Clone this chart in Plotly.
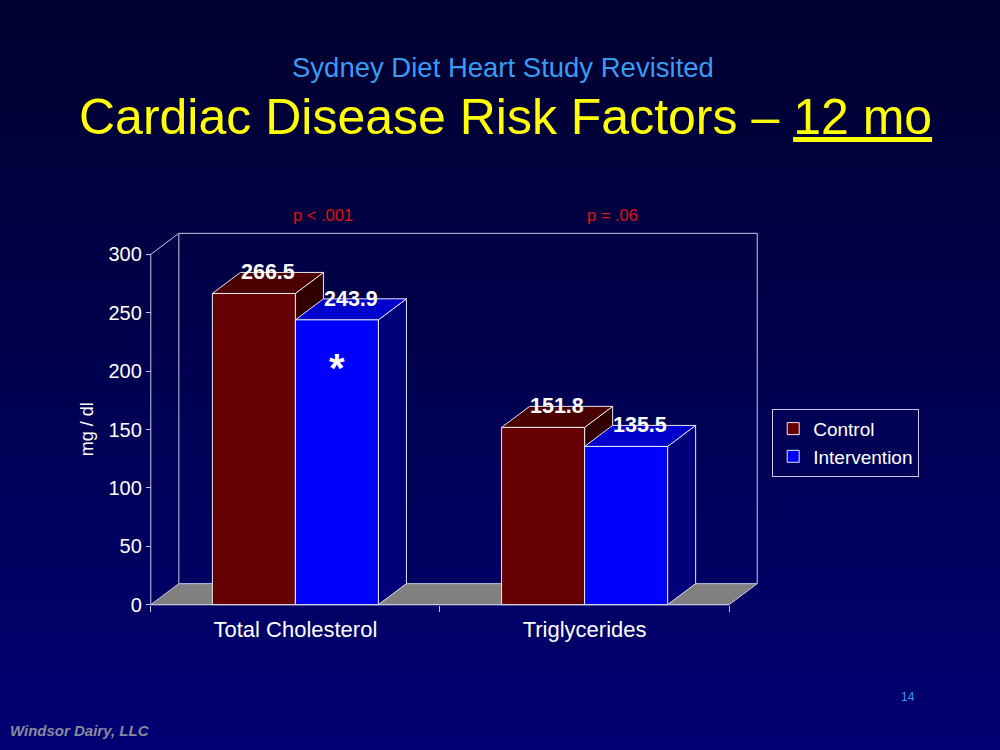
import plotly.graph_objects as go

# ---------------- data ----------------
categories = ["Total Cholesterol", "Triglycerides"]
series_names = ["Control", "Intervention"]
control = [266.5, 151.8]
intervention = [243.9, 135.5]
p_values = ["p < .001", "p = .06"]
y_ticks = [0, 50, 100, 150, 200, 250, 300]

# ---------------- style / geometry ----------------
front_colors = ["#660000", "#0000FF"]
top_colors = ["#4A0000", "#0000CC"]
side_colors = ["#300000", "#000078"]
EDGE = "#E8E8F0"
WALL = "#C8C8E6"
FLOOR = "#808080"
FONT = "Arial, Liberation Sans, sans-serif"

DX = 0.097      # 3-D depth offset (x units)
DY = 18         # 3-D depth offset (y units)
BARGAP = 0.426
BW = (1 - BARGAP) / 2
YMAX = 300
XR = [-0.52, 1.61]
YR = [-2, 320]

W, H = 1000, 750
ML, MR, MT, MB = 145.2, 239.2, 231.2, 142.7
PW, PH = W - ML - MR, H - MT - MB


def paper(px, py):
    return (px - ML) / PW, (H - MB - py) / PH


xs = list(range(len(categories)))
series_vals = [control, intervention]
offsets = [-BW, 0.0]

fig = go.Figure()

# floor
fx = [-0.5, 1.5, 1.5 + DX, -0.5 + DX, -0.5]
fy = [0, 0, DY, DY, 0]
fig.add_trace(go.Scatter(x=fx, y=fy, fill="toself", fillcolor=FLOOR, mode="lines",
                         line=dict(color=WALL, width=1), hoverinfo="skip",
                         showlegend=False, zorder=0))
# back wall + left wall edge + y axis line
wx = [-0.5 + DX, -0.5 + DX, 1.5 + DX, 1.5 + DX, None, -0.5, -0.5 + DX, None, -0.5, -0.5]
wy = [DY, YMAX + DY, YMAX + DY, DY, None, YMAX, YMAX + DY, None, 0, YMAX]
fig.add_trace(go.Scatter(x=wx, y=wy, mode="lines", line=dict(color=WALL, width=1),
                         hoverinfo="skip", showlegend=False, zorder=0))
# front x axis line
fig.add_trace(go.Scatter(x=[-0.5, 1.5], y=[0, 0], mode="lines", line=dict(color=WALL, width=1),
                         hoverinfo="skip", showlegend=False, zorder=0))

for s, (name, vals) in enumerate(zip(series_names, series_vals)):
    off = offsets[s]
    tx, ty, rx, ry = [], [], [], []
    for i, v in zip(xs, vals):
        x0 = i + off
        x1 = x0 + BW
        tx += [x0, x1, x1 + DX, x0 + DX, x0, None]
        ty += [v, v, v + DY, v + DY, v, None]
        rx += [x1, x1 + DX, x1 + DX, x1, x1, None]
        ry += [0, DY, v + DY, v, 0, None]
    z = 1 + 2 * s
    fig.add_trace(go.Scatter(x=rx, y=ry, fill="toself", fillcolor=side_colors[s], mode="lines",
                             line=dict(color=EDGE, width=1), hoverinfo="skip",
                             showlegend=False, zorder=z))
    fig.add_trace(go.Scatter(x=tx, y=ty, fill="toself", fillcolor=top_colors[s], mode="lines",
                             line=dict(color=EDGE, width=1), hoverinfo="skip",
                             showlegend=False, zorder=z))
    fig.add_trace(go.Bar(x=xs, y=vals, name=name, width=BW, offset=off,
                         marker=dict(color=front_colors[s], line=dict(color=EDGE, width=1)),
                         zorder=z + 1))

annotations = []
for s, vals in enumerate(series_vals):
    for i, v in zip(xs, vals):
        annotations.append(dict(x=i + offsets[s] + BW / 2 + DX / 2, y=v + DY, xref="x", yref="y",
                                xanchor="center", yanchor="middle",
                                text=f"<b>{v}</b>", showarrow=False,
                                font=dict(family=FONT, size=21.5, color="white")))
# significance asterisk
annotations.append(dict(x=xs[0] + offsets[1] + BW / 2, y=203, xref="x", yref="y", text="<b>*</b>",
                        xanchor="center", yanchor="middle",
                        showarrow=False, font=dict(family=FONT, size=40, color="white")))
# p-values above the chart
p_y = paper(0, 215)[1]
for i, p in zip(xs, p_values):
    annotations.append(dict(x=i + DX, y=p_y, xref="x", yref="paper", text=p, showarrow=False,
                            xanchor="center", yanchor="middle",
                            font=dict(family=FONT, size=16.5, color="#E01010")))
# y-axis title, centred on the 0-300 scale
tx_, _ = paper(87, 0)
annotations.append(dict(x=tx_, y=YMAX / 2, xref="paper", yref="y", text="mg / dl", textangle=-90,
                        xanchor="center", yanchor="middle", showarrow=False,
                        font=dict(family=FONT, size=18, color="white")))

# titles
px, py = paper(503, 68)
annotations.append(dict(x=px, y=py, xref="paper", yref="paper", text="Sydney Diet Heart Study Revisited",
                        xanchor="center", yanchor="middle",
                        showarrow=False, font=dict(family=FONT, size=27.5, color="#3A9BF2")))
px, py = paper(505, 117)
annotations.append(dict(x=px, y=py, xref="paper", yref="paper",
                        xanchor="center", yanchor="middle",
                        text="Cardiac Disease Risk Factors – <span style='text-decoration:underline'>12 mo</span>",
                        showarrow=False, font=dict(family=FONT, size=50, color="#FFFF00")))
# footer
px, py = paper(8, 731)
annotations.append(dict(x=px, y=py, xref="paper", yref="paper", xanchor="left", yanchor="middle",
                        text="<b><i>Windsor Dairy, LLC</i></b>", showarrow=False,
                        font=dict(family=FONT, size=15, color="#8A8A9E")))
px, py = paper(908, 697)
annotations.append(dict(x=px, y=py, xref="paper", yref="paper", text="14", showarrow=False,
                        xanchor="center", yanchor="middle",
                        font=dict(family=FONT, size=12, color="#3A9BF2")))

# gradient background bands
shapes = []
n = 75
for k in range(n):
    t = k / (n - 1)
    b = int(round(0x2E + (0x72 - 0x2E) * t))
    shapes.append(dict(type="rect", xref="paper", yref="paper", layer="below",
                       x0=paper(0, 0)[0], x1=paper(W, 0)[0],
                       y0=paper(0, k * H / n)[1], y1=paper(0, (k + 1) * H / n + 0.5)[1],
                       fillcolor=f"rgb(0,0,{b})", line=dict(width=0)))

lx, ly = paper(772, 409)
y_anchor_pos = (0 - YR[0]) / (YR[1] - YR[0])
x_anchor_pos = (-0.5 - XR[0]) / (XR[1] - XR[0])

fig.update_layout(
    width=W, height=H,
    margin=dict(l=ML, r=MR, t=MT, b=MB, pad=0),
    paper_bgcolor="#000050",
    plot_bgcolor="rgba(0,0,0,0)",
    barmode="overlay",
    showlegend=True,
    legend=dict(x=lx, y=ly, xanchor="left", yanchor="top", bgcolor="rgba(0,0,0,0)",
                bordercolor=WALL, borderwidth=1,
                font=dict(family=FONT, size=19, color="white")),
    xaxis=dict(range=XR, tickmode="array", tickvals=xs, ticktext=categories,
               ticks="outside", ticklen=5, tickcolor="rgba(0,0,0,0)",
               tickfont=dict(family=FONT, size=22, color="white"),
               showgrid=False, zeroline=False, showline=False,
               anchor="free", position=y_anchor_pos,
               minor=dict(tickmode="array", tickvals=[-0.5, 0.5, 1.5], ticks="outside",
                          ticklen=6, tickcolor=WALL, showgrid=False)),
    yaxis=dict(range=YR, tickmode="array", tickvals=y_ticks, ticks="outside", ticklen=5,
               tickcolor=WALL, tickfont=dict(family=FONT, size=20, color="white"),
               showgrid=False, zeroline=False, showline=False,
               anchor="free", position=x_anchor_pos),
    annotations=annotations,
    shapes=shapes,
)

fig.write_html("out.html")
